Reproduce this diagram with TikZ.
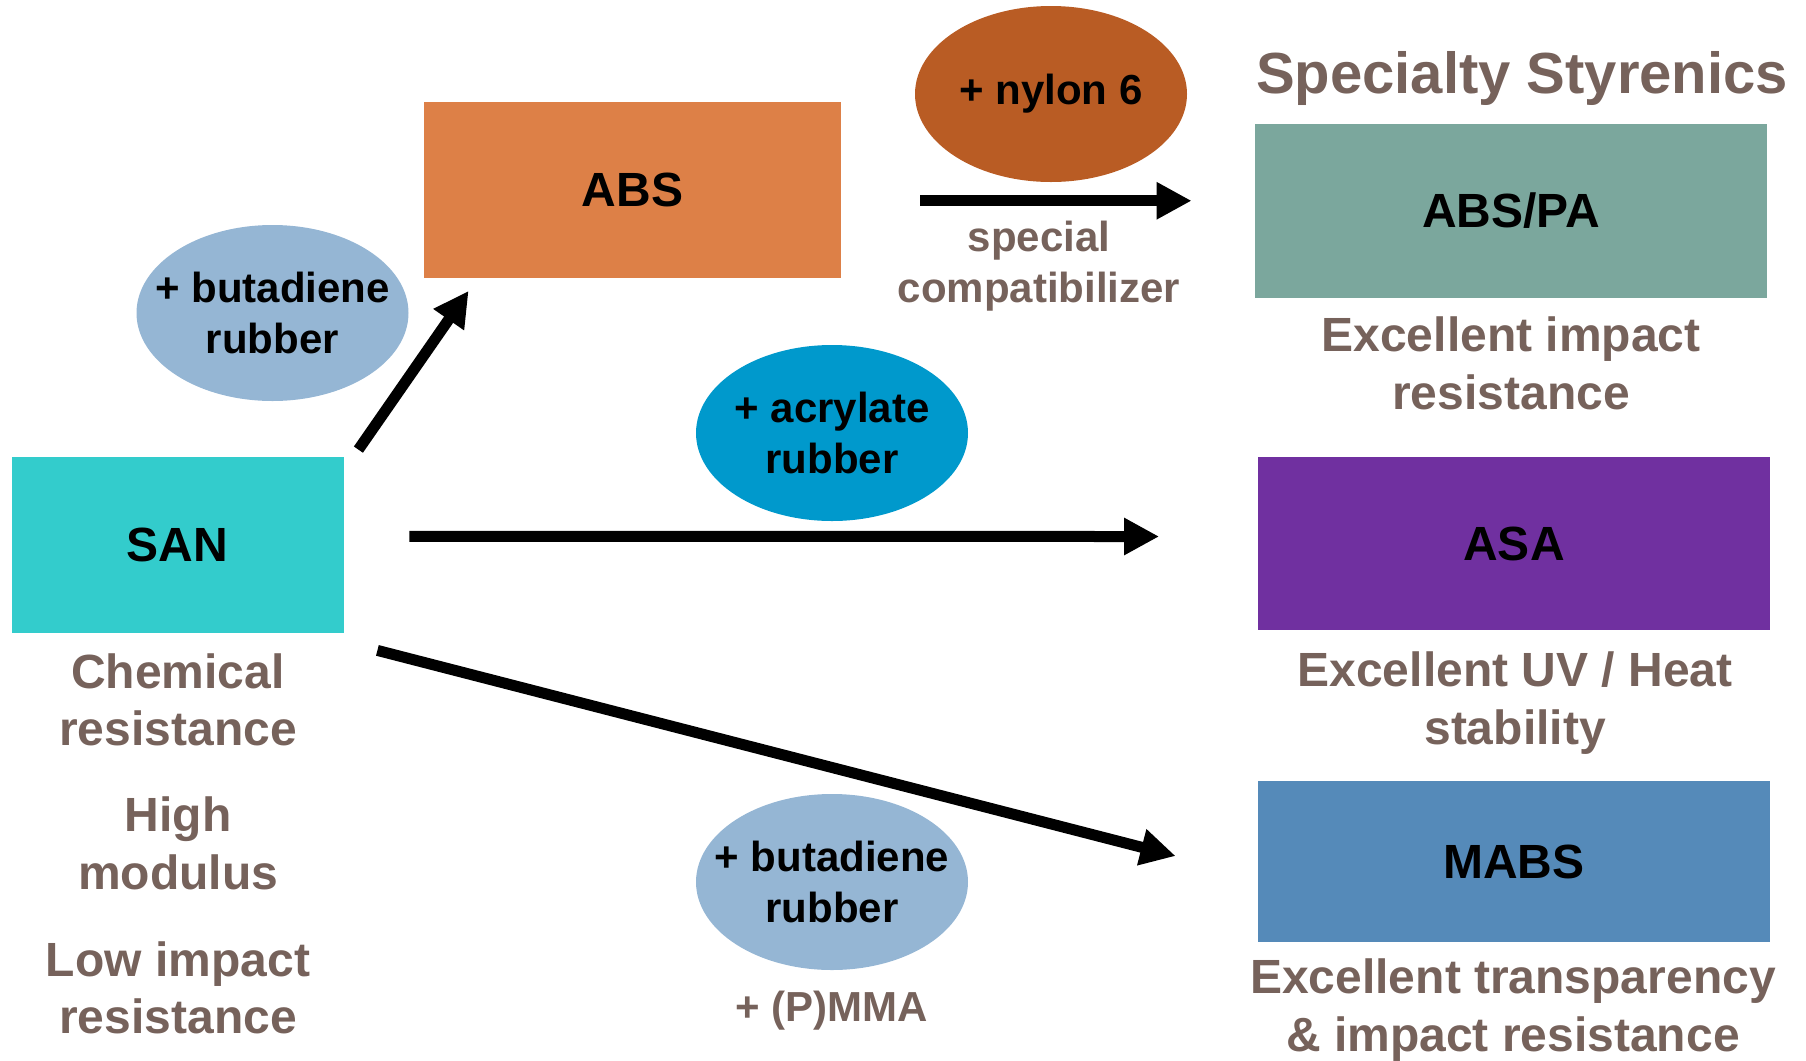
\documentclass[tikz,border=0pt]{standalone}
\usepackage{fontspec}
\setmainfont{Liberation Sans}
\usetikzlibrary{shapes.geometric, arrows.meta}
\definecolor{sancyan}{HTML}{33CCCC}
\definecolor{absorange}{HTML}{DD8047}
\definecolor{abspagreen}{HTML}{7BA79D}
\definecolor{asapurple}{HTML}{7030A0}
\definecolor{mabsblue}{HTML}{558AB9}
\definecolor{butablue}{HTML}{95B6D4}
\definecolor{acrylblue}{HTML}{0099CC}
\definecolor{nylonbrown}{HTML}{B95C24}
\definecolor{propbrown}{HTML}{76625B}
\begin{document}
\begin{tikzpicture}[
    x=0.5pt, y=-0.5pt,
    every node/.style={align=center, inner sep=0pt},
    resin/.style={rectangle, minimum width=256pt, minimum height=86.5pt, font=\fontsize{24}{28.8}\selectfont\bfseries},
    additive/.style={ellipse, inner sep=-12pt, minimum width=136pt, minimum height=88pt, font=\fontsize{21}{25.2}\selectfont\bfseries},
    property/.style={text=propbrown, font=\fontsize{24}{28.8}\selectfont\bfseries},
    process/.style={text=propbrown, font=\fontsize{21}{25.2}\selectfont\bfseries},
    flow/.style={line width=5.5pt, -{Triangle[length=17.5pt, width=17.5pt]}}
]
% Dal SAN agli stirenici speciali:
% ABS, ABS/PA, ASA e MABS con i rispettivi additivi.
\useasboundingbox (0,0) rectangle (1806,1061);

\node[resin, fill=sancyan, minimum width=166pt, minimum height=88pt] (SAN) at (177.5,545) {SAN};
\node[resin, fill=absorange, minimum width=208.5pt, minimum height=87.75pt] (ABS) at (632.5,189.75) {ABS};
\node[resin, fill=abspagreen, minimum height=86.75pt] (ABSPA) at (1511,210.75) {ABS/PA};
\node[resin, fill=asapurple] (ASA) at (1514,543.5) {ASA};
\node[resin, fill=mabsblue, minimum height=80.5pt] (MABS) at (1514,861.5) {MABS};

\node[additive, fill=butablue] (butaUp) at (272.5,313) {+ butadiene\\rubber};
\node[additive, fill=nylonbrown] (nylon) at (1051,94) {+ nylon 6};
\node[additive, fill=acrylblue] (acryl) at (832,433) {+ acrylate\\rubber};
\node[additive, fill=butablue] (butaDown) at (832,882) {+ butadiene\\rubber};

\node[text=propbrown, font=\fontsize{29}{34.8}\selectfont\bfseries, anchor=base] (title) at (1522,93) {Specialty Styrenics};
\node[process] (compat) at (1039,266) {special\\compatibilizer};
\node[process, anchor=base] (pmma) at (832,1021) {+ (P)MMA};

\node[property] (chem) at (178,700) {Chemical\\resistance};
\node[property] (modulus) at (178,843.5) {High\\modulus};
\node[property] (lowimp) at (178,988) {Low impact\\resistance};
\node[property] (impact) at (1511,363.5) {Excellent impact\\resistance};
\node[property] (uvheat) at (1515,703) {Excellent UV / Heat\\stability};
\node[property] (transp) at (1513,1010) {Excellent transparency\\\& impact resistance};

\draw[flow] ([shift={(7.25pt,3.5pt)}]SAN.north east) -- ([shift={(22.5pt,-6.5pt)}]ABS.south west);
\draw[flow] ([shift={(39.5pt,-5.5pt)}]ABS.east) -- ([shift={(-31.5pt,5pt)}]ABSPA.west);
\draw[flow] ([shift={(32.75pt,4.3pt)}]SAN.east) -- ([shift={(-49.25pt,3.5pt)}]ASA.west);
\draw[flow] ([shift={(16.75pt,-8.5pt)}]SAN.south east) -- ([shift={(-41pt,2.75pt)}]MABS.west);
\end{tikzpicture}
\end{document}
